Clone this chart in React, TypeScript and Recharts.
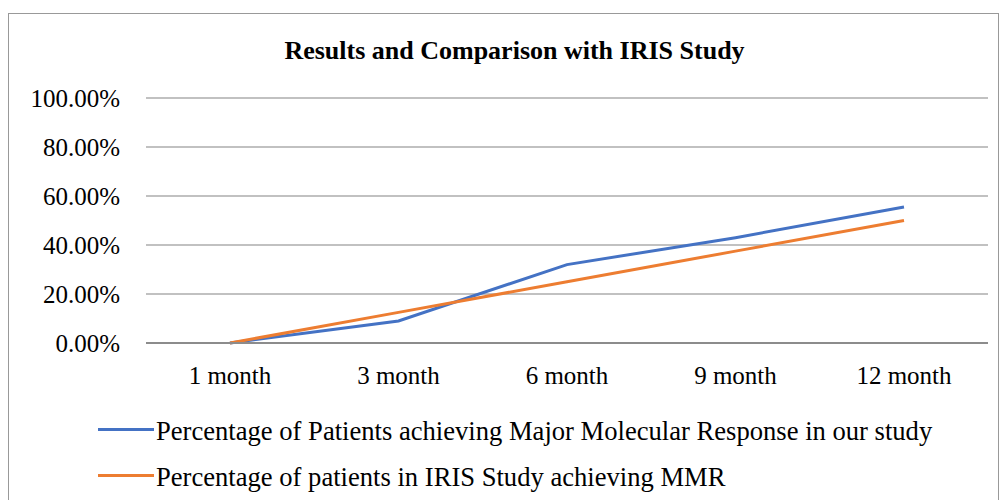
import React from "react"
import { LineChart, Line, XAxis, YAxis, CartesianGrid } from "recharts"

// categories + series
const months = ["1 month", "3 month", "6 month", "9 month", "12 month"]
const ourStudy = [0, 0.09, 0.32, 0.43, 0.555]
const irisStudy = [0, 0.125, 0.25, 0.375, 0.5]
const yTicks = [0, 0.2, 0.4, 0.6, 0.8, 1]

const OUR_LABEL = "Percentage of Patients achieving Major Molecular Response in our study"
const IRIS_LABEL = "Percentage of patients in IRIS Study achieving MMR"

const BLUE = "#4472C4"
const ORANGE = "#ED7D31"
const FONT = "'Liberation Serif', 'Times New Roman', serif"

const data = months.map((m, i) => ({ month: m, ours: ourStudy[i], iris: irisStudy[i] }))

const fmtPct = (v: number) => `${(v * 100).toFixed(2)}%`

// legend drawn by hand, outside the chart, so it doesn't eat plot height
function LegendBox() {
  const rows = [
    { label: OUR_LABEL, color: BLUE, y: 429 },
    { label: IRIS_LABEL, color: ORANGE, y: 475 },
  ]
  return (
    <>
      {rows.map((r) => (
        <React.Fragment key={r.label}>
          <div style={{ position: "absolute", left: 98, top: r.y - 1.5, width: 56, height: 3, background: r.color }} />
          <div
            style={{
              position: "absolute",
              left: 156,
              top: r.y - 13,
              fontFamily: FONT,
              fontSize: 26.6,
              lineHeight: "30px",
              whiteSpace: "nowrap",
              color: "#000",
            }}
          >
            {r.label}
          </div>
        </React.Fragment>
      ))}
    </>
  )
}

export default function App() {
  return (
    <div style={{ position: "absolute", left: 0, top: 0, width: 1004, height: 500, overflow: "hidden", background: "#fff" }}>
      <div style={{ position: "absolute", left: 8, top: 13, width: 989, height: 600, border: "1.5px solid #999" }} />
      <div
        style={{
          position: "absolute",
          left: 0,
          width: 1029,
          top: 36,
          textAlign: "center",
          fontFamily: FONT,
          fontWeight: "bold",
          fontSize: 26,
          lineHeight: "30px",
          whiteSpace: "nowrap",
        }}
      >
        Results and Comparison with IRIS Study
      </div>
      <LineChart
        width={1004}
        height={500}
        data={data}
        margin={{ top: 98, right: 16, bottom: 127, left: 0 }}
        style={{ position: "absolute", left: 0, top: 0 }}
      >
        <CartesianGrid vertical={false} stroke="#adadad" strokeWidth={1.5} />
        <XAxis
          dataKey="month"
          height={30}
          padding={{ left: 84, right: 84 }}
          tickLine={false}
          tickSize={0}
          tickMargin={23}
          axisLine={{ stroke: "#8c8c8c", strokeWidth: 2 }}
          tick={{ fill: "#000", fontFamily: FONT, fontSize: 25 }}
          interval={0}
        />
        <YAxis
          width={146}
          domain={[0, 1]}
          ticks={yTicks}
          tickFormatter={fmtPct}
          axisLine={false}
          tickLine={false}
          tickSize={0}
          tickMargin={26}
          tick={{ fill: "#000", fontFamily: FONT, fontSize: 25 }}
        />
        <Line
          type="linear"
          dataKey="ours"
          name={OUR_LABEL}
          stroke={BLUE}
          strokeWidth={3}
          dot={false}
          activeDot={false}
          isAnimationActive={false}
        />
        <Line
          type="linear"
          dataKey="iris"
          name={IRIS_LABEL}
          stroke={ORANGE}
          strokeWidth={3}
          dot={false}
          activeDot={false}
          isAnimationActive={false}
        />
      </LineChart>
      <LegendBox />
    </div>
  )
}
